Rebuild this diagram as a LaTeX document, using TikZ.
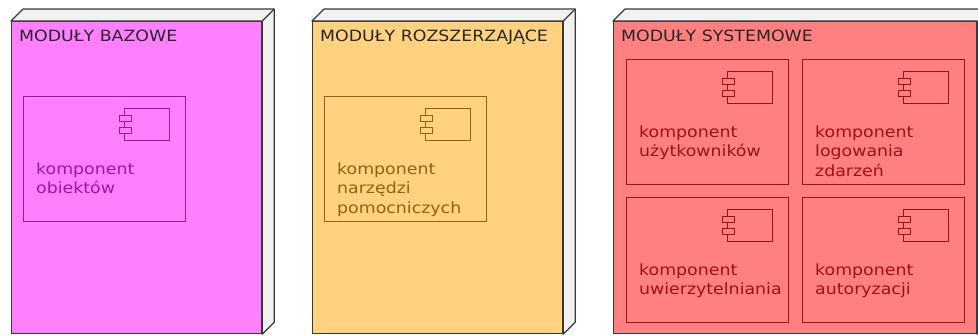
\documentclass[tikz,border=0pt]{standalone}
\usepackage{fontspec}
\setmainfont{DejaVu Sans}[FakeStretch=1.12]
\usepackage{tikz}

\definecolor{ramka}{RGB}{56,56,56}
\definecolor{glebia}{RGB}{241,241,241}
\definecolor{bazowy}{RGB}{255,128,255}
\definecolor{rozszerz}{RGB}{254,210,128}
\definecolor{systemowy}{RGB}{255,128,128}
\definecolor{kbazowy}{RGB}{160,20,160}
\definecolor{krozszerz}{RGB}{140,100,20}
\definecolor{ksystemowy}{RGB}{160,16,16}

\begin{document}
\begin{tikzpicture}[x=1pt,y=-1pt,
    modul/.style={draw=ramka,line width=1.2pt,anchor=north west,minimum width=250,minimum height=312,inner sep=0},
    glebia/.style={draw=ramka,line width=1.2pt,fill=glebia,line join=round},
    komp/.style={line width=1pt,anchor=north west,minimum width=162,minimum height=125,inner sep=0},
    ikona/.style={line width=1pt},
    napis/.style={anchor=base west,inner sep=0,align=left,font=\fontsize{15.5}{19.7}\selectfont}]
        \useasboundingbox (0,0) rectangle (978,335);

        % wezly
        \node[modul,fill=bazowy] (bazowe) at (11,21) {};
        \node[modul,fill=rozszerz] (rozszerz) at (312,21) {};
        \node[modul,fill=systemowy,minimum width=363] (systemowe) at (613,21) {};

        \draw[glebia] (bazowe.north west) -- ++(12,-12) -- ([shift={(12,-12)}]bazowe.north east) -- ([shift={(12,-12)}]bazowe.south east) -- (bazowe.south east) -- (bazowe.north east) -- cycle;
        \draw[glebia] (bazowe.north east) -- ++(12,-12);
        \draw[glebia] (rozszerz.north west) -- ++(12,-12) -- ([shift={(12,-12)}]rozszerz.north east) -- ([shift={(12,-12)}]rozszerz.south east) -- (rozszerz.south east) -- (rozszerz.north east) -- cycle;
        \draw[glebia] (rozszerz.north east) -- ++(12,-12);
        \draw[glebia] (systemowe.north west) -- ++(12,-12) -- ([shift={(12,-12)}]systemowe.north east) -- ([shift={(12,-12)}]systemowe.south east) -- (systemowe.south east) -- (systemowe.north east) -- cycle;

        \node[napis,text=black!85] (bazowe-tytul) at ([shift={(8,20)}]bazowe.north west) {MODUŁY BAZOWE};
        \node[napis,text=black!85] (rozszerz-tytul) at ([shift={(8,20)}]rozszerz.north west) {MODUŁY ROZSZERZAJĄCE};
        \node[napis,text=black!85] (systemowe-tytul) at ([shift={(8,20)}]systemowe.north west) {MODUŁY SYSTEMOWE};

        % komponenty (base = ostatnia linia opisu)
        \node[komp,draw=kbazowy] (obiekty) at (23,96) {};
        \draw[ikona,draw=kbazowy] ([shift={(-62,12)}]obiekty.north east) rectangle ++(45,32);
        \draw[ikona,draw=kbazowy,fill=bazowy] ([shift={(-67,19)}]obiekty.north east) rectangle ++(12,6) ([shift={(-67,31)}]obiekty.north east) rectangle ++(12,6);
        \node[napis,text=kbazowy] (obiekty-opis) at ([shift={(13,97.7)}]obiekty.north west) {komponent\\obiektów};

        \node[komp,draw=krozszerz] (narzedzia) at (324,96) {};
        \draw[ikona,draw=krozszerz] ([shift={(-62,12)}]narzedzia.north east) rectangle ++(45,32);
        \draw[ikona,draw=krozszerz,fill=rozszerz] ([shift={(-67,19)}]narzedzia.north east) rectangle ++(12,6) ([shift={(-67,31)}]narzedzia.north east) rectangle ++(12,6);
        \node[napis,text=krozszerz] (narzedzia-opis) at ([shift={(13,117.4)}]narzedzia.north west) {komponent\\narzędzi\\pomocniczych};

        \node[komp,draw=ksystemowy] (uzytkownicy) at (626,59) {};
        \draw[ikona,draw=ksystemowy] ([shift={(-62,12)}]uzytkownicy.north east) rectangle ++(45,32);
        \draw[ikona,draw=ksystemowy,fill=systemowy] ([shift={(-67,19)}]uzytkownicy.north east) rectangle ++(12,6) ([shift={(-67,31)}]uzytkownicy.north east) rectangle ++(12,6);
        \node[napis,text=ksystemowy] (uzytkownicy-opis) at ([shift={(13,97.7)}]uzytkownicy.north west) {komponent\\użytkowników};

        \node[komp,draw=ksystemowy] (logowanie) at (802,59) {};
        \draw[ikona,draw=ksystemowy] ([shift={(-62,12)}]logowanie.north east) rectangle ++(45,32);
        \draw[ikona,draw=ksystemowy,fill=systemowy] ([shift={(-67,19)}]logowanie.north east) rectangle ++(12,6) ([shift={(-67,31)}]logowanie.north east) rectangle ++(12,6);
        \node[napis,text=ksystemowy] (logowanie-opis) at ([shift={(13,117.4)}]logowanie.north west) {komponent\\logowania\\zdarzeń};

        \node[komp,draw=ksystemowy] (uwierzytelnianie) at (626,197) {};
        \draw[ikona,draw=ksystemowy] ([shift={(-62,12)}]uwierzytelnianie.north east) rectangle ++(45,32);
        \draw[ikona,draw=ksystemowy,fill=systemowy] ([shift={(-67,19)}]uwierzytelnianie.north east) rectangle ++(12,6) ([shift={(-67,31)}]uwierzytelnianie.north east) rectangle ++(12,6);
        \node[napis,text=ksystemowy] (uwierzytelnianie-opis) at ([shift={(13,97.7)}]uwierzytelnianie.north west) {komponent\\uwierzytelniania};

        \node[komp,draw=ksystemowy] (autoryzacja) at (802,197) {};
        \draw[ikona,draw=ksystemowy] ([shift={(-62,12)}]autoryzacja.north east) rectangle ++(45,32);
        \draw[ikona,draw=ksystemowy,fill=systemowy] ([shift={(-67,19)}]autoryzacja.north east) rectangle ++(12,6) ([shift={(-67,31)}]autoryzacja.north east) rectangle ++(12,6);
        \node[napis,text=ksystemowy] (autoryzacja-opis) at ([shift={(13,97.7)}]autoryzacja.north west) {komponent\\autoryzacji};
    \end{tikzpicture}
\end{document}
